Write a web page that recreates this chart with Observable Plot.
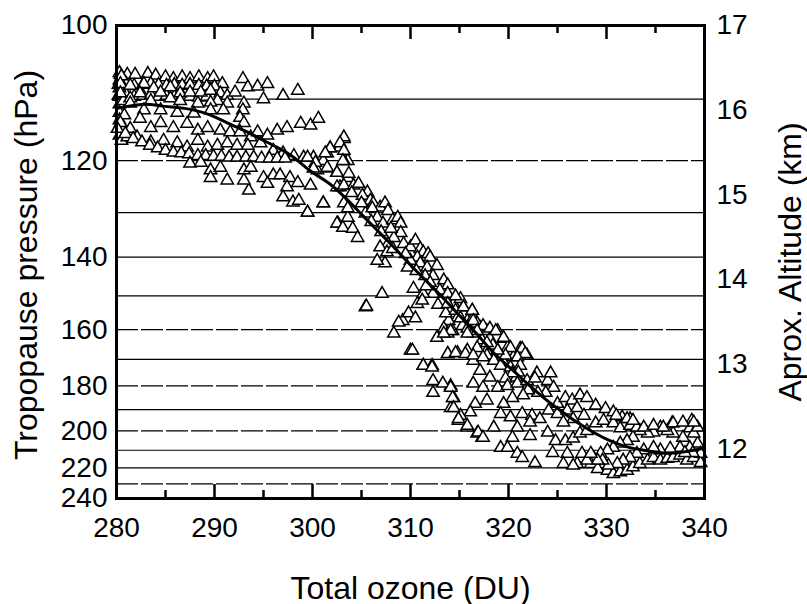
<!DOCTYPE html>
<html><head><meta charset="utf-8">
<script src="https://cdn.jsdelivr.net/npm/d3@7"></script>
<script src="https://cdn.jsdelivr.net/npm/@observablehq/plot@0.6"></script>
<style>html,body{margin:0;padding:0;background:#fff}</style>
</head><body><div id="chart"></div>
<script>
// Axis definitions
const xMajor = [280, 290, 300, 310, 320, 330, 340];
const xMinor = [285, 295, 305, 315, 325, 335];
const pressureTicks = [100, 120, 140, 160, 180, 200, 220, 240];
const altitudeTicks = [12, 13, 14, 15, 16, 17];
const solidGrid = [110, 130, 140, 150, 170, 190, 210, 220];
const dashedGrid = [120, 160, 180, 200, 230];
const pTop = 100, pBottom = 240, kmTop = 17, kmBottom = 11.41;
const xTitle = "Total ozone (DU)";
const yTitle = "Tropopause pressure (hPa)";
const y2Title = "Aprox. Altitude (km)";

// Observations [total ozone (DU), approx. altitude (km)]
const topRow = [[280.4,16.42],[281.1,16.42],[281.9,16.42],[283.2,16.43],[284.0,16.41],[285.0,16.39],[285.8,16.37],[286.7,16.39],[287.5,16.37],[288.4,16.39],[289.3,16.37],[289.9,16.39],[290.8,16.31],[292.9,16.37],[293.4,16.27],[294.4,16.28],[295.4,16.31],[297.0,16.17],[298.5,16.23],[295.0,16.13]];
const topBand = [[280.2,16.30],[281.0,16.31],[281.8,16.29],[282.7,16.30],[283.5,16.31],[284.3,16.30],[285.1,16.29],[285.9,16.30],[286.7,16.29],[287.5,16.30],[288.4,16.29],[289.2,16.28],[290.0,16.28],
  [280.2,16.17],[281.0,16.18],[281.8,16.16],[282.7,16.17],[283.5,16.18],[284.3,16.16],[285.1,16.17],[285.9,16.16],[286.7,16.17],[287.5,16.16],[288.4,16.15],[289.2,16.16]];
const leftEdge = [[280.3,16.44],[280.3,16.35],[280.3,16.26],[280.3,16.16],[280.3,16.07],[280.3,15.97],[280.3,15.88],[280.5,16.40],[280.7,16.11],[280.8,15.94],[280.3,15.70],[280.5,15.64]];
const upperCluster = [[280.4,16.31],[281.4,16.29],[282.8,16.31],[283.8,16.26],[284.5,16.21],[285.5,16.27],[286.5,16.20],[287.5,16.21],[288.6,16.21],[289.6,16.23],[290.6,16.20],[291.3,16.17],[292.1,16.21],[293.0,16.08],[290.3,16.11],[283.5,16.11],[281.4,16.14],[280.4,16.20],[282.4,16.20],[285.5,16.14],[286.5,16.11],[288.3,16.08],[289.6,16.09],[291.3,16.08],[292.9,16.00],[292.6,15.91],[293.0,15.85],[290.9,16.00],[289.6,16.00],[287.9,15.96],[286.2,15.97],[284.5,16.00],[282.8,16.00],[281.4,16.08]];
const middleCluster = [[280.4,15.85],[281.4,15.78],[282.4,15.90],[283.5,15.79],[284.5,15.85],[285.8,15.79],[287.2,15.84],[288.3,15.76],[289.3,15.79],[290.6,15.76],[291.6,15.74],[292.6,15.74],[293.7,15.68],[294.4,15.74],[295.4,15.70],[296.4,15.76],[297.4,15.79],[298.8,15.84],[299.8,15.82],[300.6,15.90],[281.1,15.68],[282.1,15.68],[283.5,15.62],[284.8,15.64],[286.2,15.61],[287.2,15.56],[288.3,15.64],[289.3,15.56],[290.3,15.58],[291.3,15.61],[292.3,15.58],[293.4,15.58],[294.7,15.61],[296.0,15.52],[297.0,15.49],[298.1,15.46],[299.1,15.44],[300.1,15.44],[301.5,15.49],[301.8,15.55],[303.2,15.66],[302.8,15.56],[303.6,15.40],[301.1,15.40]];
const lowerBand = [[280.1,15.78],[280.9,15.72],[281.7,15.66],[282.6,15.62],[283.4,15.58],[284.2,15.55],[285.0,15.52],[285.8,15.50],[286.6,15.49],[287.4,15.48],[288.3,15.46],[289.1,15.46],[289.9,15.45],[290.7,15.45],[291.5,15.44],[292.3,15.44],[293.2,15.44],[294.0,15.44],[294.8,15.43],[295.6,15.43],[296.4,15.43],[297.2,15.43]];
const belowCluster = [[287.5,15.37],[288.6,15.38],[289.6,15.29],[290.6,15.32],[291.3,15.17],[289.6,15.20],[293.0,15.29],[293.7,15.32],[293.5,15.05],[293.0,15.17],[295.0,15.20],[296.0,15.23],[295.4,15.13],[296.7,15.23],[297.7,15.20],[298.5,15.14],[297.4,15.09],[297.0,14.97],[298.0,14.91],[298.6,14.93],[299.5,14.79],[299.8,15.11],[301.1,14.90],[300.5,15.29],[301.5,15.31],[302.5,15.26],[303.2,15.40],[303.6,15.20],[302.8,15.09],[303.2,14.90],[302.6,14.66],[303.6,14.73]];
const mainBand = [[303.2,15.68],[302.8,15.61],[301.8,15.55],[301.3,15.49],[303.2,15.52],[303.1,15.40],[299.5,15.44],[300.3,15.38],[300.1,15.31],[301.5,15.32],[302.5,15.26],[303.7,15.25],[302.5,15.09],[303.2,15.11],[304.2,15.11],[304.7,15.13],[305.6,15.03],[305.1,14.99],[305.9,14.93],[306.2,14.90],[306.9,14.85],[307.4,14.90],[307.7,14.81],[305.4,14.78],[306.1,14.84],[306.6,14.73],[307.2,14.66],[308.2,14.70],[308.7,14.73],[309.0,14.66],[309.0,14.55],[308.3,14.49],[307.7,14.42],[306.9,14.38],[307.6,14.32],[307.4,14.19],[308.2,14.36],[309.3,14.42],[310.0,14.38],[310.5,14.46],[311.0,14.36],[311.3,14.32],[311.8,14.30],[312.0,14.26],[310.7,14.26],[310.0,14.22],[309.7,14.14],[311.0,14.19],[311.7,14.14],[312.7,14.16],[312.3,14.04],[311.5,14.04],[312.0,13.96],[313.4,13.99],[313.8,13.93],[313.0,13.87],[313.8,13.83],[312.3,13.83],[311.3,13.83],[310.3,13.89],[310.7,13.71],[311.2,13.75],[314.4,13.71],[315.1,13.77],[314.1,13.63],[315.4,13.67],[316.3,13.63],[314.8,13.55],[315.8,13.51],[316.4,13.55],[315.3,13.45],[313.9,13.51],[313.4,13.42],[312.7,13.31],[313.8,13.36],[314.3,13.39],[315.8,13.42],[316.4,13.36],[317.1,13.43],[317.8,13.39],[318.9,13.39],[319.5,13.30],[318.1,13.30],[317.3,13.28],[316.8,13.19],[317.8,13.16],[318.9,13.16],[319.9,13.19],[321.2,13.18],[321.9,13.10],[320.5,13.08],[319.2,13.08],[317.8,13.10],[316.4,13.04],[315.8,13.16],[314.8,13.13],[313.8,13.12],[310.0,13.16],[308.3,13.36],[309.2,13.51],[309.8,13.60],[310.5,13.54],[307.1,13.83],[305.4,13.67],[301.1,14.90],[299.5,14.79],[302.5,14.66],[303.1,14.61],[304.1,14.60],[304.6,14.49],[303.6,14.84],[306.6,14.22],[311.3,12.98],[312.2,12.98],
  [304.0,15.02],[305.0,14.90],[306.0,14.68],[307.0,14.56],[308.0,14.60],[309.5,14.30],[310.6,14.10],[311.6,13.92],[312.8,13.70],[313.6,13.60],[314.6,13.80],[316.8,13.48],[318.4,13.22],[319.6,13.00],[320.8,12.84]];
const slopeCluster = [[313.8,13.71],[314.6,13.63],[315.4,13.67],[316.3,13.63],[315.1,13.54],[316.4,13.51],[317.4,13.45],[318.1,13.42],[318.7,13.39],[319.5,13.31],[320.2,13.19],[321.4,13.18],[321.7,13.12],[320.9,13.08],[319.7,13.10],[318.9,13.16],[317.8,13.25],[316.8,13.39],[315.8,13.36],[314.1,13.39],[313.4,13.36],[313.8,13.12],[314.6,13.13],[315.6,13.12],[316.4,13.10],[317.4,13.08],[318.5,13.04],[319.2,12.98],[320.2,12.96],[321.2,12.98],[321.0,12.90],[320.4,12.89],[319.7,12.83],[318.1,12.84],[317.1,12.92],[316.4,12.77],[317.4,12.72],[318.9,12.72],[319.9,12.74],[320.9,12.77],[321.9,12.80],[322.9,12.89],[322.7,12.83],[324.0,12.80],[324.3,12.89],[324.6,12.72],[323.8,12.66],[323.0,12.66],[322.0,12.69],[321.5,12.63],[320.4,12.60],[319.5,12.53],[317.8,12.57],[316.6,12.53],[316.1,12.43],[315.1,12.39],[314.1,12.74],[314.4,12.60],[314.1,12.48],[314.9,12.33],[315.8,12.25],[316.8,12.18],[317.3,12.13],[318.5,12.25],[319.2,12.41],[320.2,12.37],[321.4,12.41],[322.4,12.39],[322.2,12.31],[320.9,12.25],[320.4,12.13],[322.2,12.15],[319.2,12.01],[319.9,12.01],[320.9,11.94],[321.4,11.89],[322.7,11.83],[323.2,12.35],[324.1,12.45],[325.0,12.53],[325.8,12.60],[326.5,12.57],[327.3,12.63],[328.0,12.60],[328.9,12.51],[329.9,12.47],[330.7,12.43],[331.6,12.37],[332.4,12.35]];
const rightCluster = [[336.7,12.30],[338.7,12.33],[338.5,12.24],[337.8,12.13],[336.8,12.18],[336.2,12.21],[335.5,12.25],[334.8,12.19],[334.2,12.18],[333.4,12.21],[332.7,12.13],[332.1,12.09],[331.4,12.06],[330.7,12.01],[330.1,11.98],[329.4,11.94],[328.7,11.89],[328.4,11.82],[329.1,11.76],[330.1,11.74],[330.7,11.70],[331.4,11.72],[332.1,11.74],[332.7,11.78],[333.4,11.82],[334.2,11.86],[334.8,11.89],[335.5,11.86],[336.2,11.88],[336.8,11.89],[337.5,11.92],[338.2,11.86],[338.9,11.89],[339.6,11.83],[339.3,12.06],[338.5,12.01],[337.5,12.01],[336.5,12.00],[335.5,11.98],[334.8,12.01],[333.8,11.98],[333.1,11.94],[332.4,11.89],[331.7,11.86],[331.1,11.82],[330.2,11.80],[329.6,11.86],[329.1,11.86],[338.9,12.18],[339.3,12.25],[339.6,11.94],[338.8,11.95],[338.0,11.95],
  [327.0,11.82],[326.0,11.94],[325.6,11.82],[326.6,11.80],[327.5,11.94],[328.0,11.86],[328.4,11.94],
  [324.8,12.09],[325.8,12.09],[326.6,12.12],[327.3,12.18],[328.0,12.21],[328.9,12.30],[329.7,12.33],[330.7,12.30],[331.4,12.24],[332.4,12.27],[333.1,12.25],[324.0,12.19],[324.5,11.95],[325.0,12.41],[326.0,12.45],[327.0,12.48],[327.7,12.39],[326.6,12.35],[325.6,12.31],
  [331.0,12.39],[332.1,12.35],[332.7,12.33],[333.8,12.25],[334.8,12.27],[335.8,12.25],[336.8,12.30],[337.8,12.31],[338.9,12.31]];
const outliers = [[310.2,13.16],[311.3,12.98],[312.2,12.96],[312.3,12.80],[313.3,12.77],[314.1,12.72],[312.3,12.66],[314.3,12.60],[314.4,12.48],[314.9,12.35],[315.8,12.27],[316.9,12.19],[317.4,12.13],[308.8,13.49],[305.5,13.68]];

// Fitted curve [total ozone (DU), approx. altitude (km)]
const fitCurve = [[280,16.02],[281.4,16.05],[283.0,16.07],[284.5,16.05],[286.2,16.03],[287.9,16.00],[289.6,15.94],[291.3,15.85],[293.0,15.76],[294.7,15.66],[296.4,15.56],[298.1,15.44],[299.8,15.28],[301.5,15.15],[303.2,14.98],[304.9,14.78],[306.6,14.58],[308.3,14.38],[310.0,14.17],[311.7,13.97],[313.4,13.77],[315.1,13.56],[316.8,13.35],[318.5,13.13],[320.2,12.95],[321.9,12.77],[323.6,12.60],[325.3,12.45],[327.0,12.31],[328.7,12.19],[330.4,12.09],[332.1,12.02],[333.8,11.98],[335.5,11.95],[337.2,11.95],[338.9,11.98],[340,12.01]];

const points = [].concat(topRow, topBand, leftEdge, upperCluster, middleCluster, lowerBand, belowCluster, mainBand, slopeCluster, rightCluster, outliers);

// pressure <-> altitude mapping of the two vertical axes (linear in 1/p)
const pToKm = p => kmTop - (1 / pTop - 1 / p) / (1 / pTop - 1 / pBottom) * (kmTop - kmBottom);
const pressureLabel = new Map(pressureTicks.map(p => [pToKm(p), String(p)]));

const W = 807, H = 604, mT = 25, mB = 106, mL = 116, mR = 103;
const frameH = H - mT - mB;
const font = "'Liberation Sans', Arial, Helvetica, sans-serif";

const chart = Plot.plot({
  width: W, height: H,
  marginTop: mT, marginBottom: mB, marginLeft: mL, marginRight: mR,
  style: {fontFamily: font, fontSize: "28px", color: "black", background: "white"},
  x: {domain: [280, 340], axis: null},
  y: {domain: [kmBottom, kmTop], axis: null},
  marks: [
    Plot.ruleY(solidGrid, {y: pToKm, stroke: "black", strokeWidth: 1.2}),
    Plot.ruleY(dashedGrid, {y: pToKm, stroke: "black", strokeWidth: 1.2, strokeDasharray: "22,3"}),
    Plot.dot(points, {x: d => d[0], y: d => d[1], symbol: "triangle", r: 4.6, fill: "white", stroke: "black", strokeWidth: 1.5}),
    Plot.line(fitCurve, {x: d => d[0], y: d => d[1], curve: "natural", stroke: "black", strokeWidth: 3}),
    Plot.tickX(xMajor, {x: d => d, insetTop: frameH - 14, stroke: "black", strokeWidth: 2.5}),
    Plot.tickX(xMinor, {x: d => d, insetTop: frameH - 8, stroke: "black", strokeWidth: 2.5}),
    Plot.tickX(xMajor, {x: d => d, insetBottom: frameH - 14, stroke: "black", strokeWidth: 2.5}),
    Plot.tickX(xMinor, {x: d => d, insetBottom: frameH - 8, stroke: "black", strokeWidth: 2.5}),
    Plot.frame({stroke: "black", strokeWidth: 3}),
    Plot.axisX(xMajor, {anchor: "bottom", tickSize: 0, tickPadding: 19, label: null, fontSize: 28}),
    Plot.axisY(pressureTicks.map(pToKm), {anchor: "left", tickSize: 0, tickPadding: 9, label: null, fontSize: 28, tickFormat: d => pressureLabel.get(d)}),
    Plot.axisY(altitudeTicks, {anchor: "right", tickSize: 0, tickPadding: 12, label: null, fontSize: 28, tickFormat: d => String(d)}),
    Plot.text([xTitle], {text: d => d, frameAnchor: "bottom", dy: 100, lineAnchor: "bottom", textAnchor: "middle", fontSize: 32}),
    Plot.text([yTitle], {text: d => d, frameAnchor: "left", dx: -80, dy: 3, rotate: -90, lineAnchor: "bottom", textAnchor: "middle", fontSize: 32}),
    Plot.text([y2Title], {text: d => d, frameAnchor: "right", dx: 96, rotate: -90, lineAnchor: "bottom", textAnchor: "middle", fontSize: 32})
  ]
});
document.getElementById("chart").appendChild(chart);
</script>
</body></html>
